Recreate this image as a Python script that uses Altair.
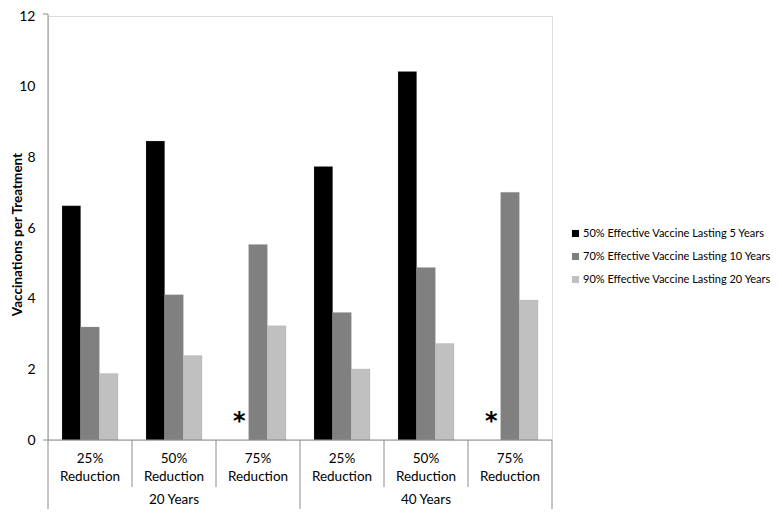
import altair as alt
import pandas as pd

periods = ["20 Years", "20 Years", "20 Years", "40 Years", "40 Years", "40 Years"]
reductions = ["25% Reduction", "50% Reduction", "75% Reduction",
              "25% Reduction", "50% Reduction", "75% Reduction"]
series = ["50% Effective Vaccine Lasting 5 Years",
          "70% Effective Vaccine Lasting 10 Years",
          "90% Effective Vaccine Lasting 20 Years"]
vals_5yr = [6.63, 8.46, None, 7.74, 10.43, None]
vals_10yr = [3.20, 4.11, 5.53, 3.61, 4.88, 7.01]
vals_20yr = [1.88, 2.39, 3.23, 2.01, 2.73, 3.96]
colors = ["#000000", "#808080", "#c0c0c0"]

FONT = "Lato"
W, H = 504, 424
AXIS_GRAY = "#8c8c8c"

keys = [f"{p} | {r}" for p, r in zip(periods, reductions)]

rows = []
for s, vals in zip(series, [vals_5yr, vals_10yr, vals_20yr]):
    for k, p, r, v in zip(keys, periods, reductions, vals):
        rows.append({"group": k, "period": p, "reduction": r, "series": s, "value": v})
df = pd.DataFrame(rows)
bars_df = df.dropna(subset=["value"])
missing_df = df[df["value"].isna()].assign(value=0, mark="*")

xscale = alt.Scale(domain=keys, paddingInner=0, paddingOuter=0)
xoff_scale = alt.Scale(domain=series, paddingInner=0, paddingOuter=0.75)

bars = alt.Chart(bars_df).mark_bar(stroke="#a0a0a0", strokeWidth=0.4, strokeOpacity=0.6).encode(
    x=alt.X("group:N", scale=xscale, axis=None, sort=keys),
    xOffset=alt.XOffset("series:N", scale=xoff_scale, sort=series),
    y=alt.Y("value:Q", scale=alt.Scale(domain=[0, 12], nice=False),
            axis=alt.Axis(values=[0, 2, 4, 6, 8, 10, 12], domain=False, ticks=False,
                          grid=False, labelFontSize=14, labelColor="#000000",
                          labelPadding=13, labelFont=FONT,
                          title="Vaccinations per Treatment", titleFontSize=13.5,
                          titleFontWeight="bold", titleFont=FONT, titleColor="#000000",
                          titleX=-31, titleY=H / 2 + 6, titleAngle=-90,
                          titleBaseline="middle", titleAlign="center")),
    color=alt.Color("series:N", scale=alt.Scale(domain=series, range=colors),
                    legend=alt.Legend(title=None, orient="none", legendX=522, legendY=212,
                                      symbolType="square", symbolSize=50,
                                      symbolStrokeWidth=0, labelFontSize=11,
                                      labelFont=FONT, labelColor="#000000", labelLimit=0,
                                      rowPadding=11, labelOffset=2, padding=0)),
)

stars = alt.Chart(missing_df).mark_text(fontSize=24, fontWeight="bold", font="DejaVu Sans",
                                        baseline="middle", dy=-18, color="#000000").encode(
    x=alt.X("group:N", scale=xscale, axis=None, sort=keys),
    xOffset=alt.XOffset("series:N", scale=xoff_scale, sort=series),
    y=alt.Y("value:Q"),
    text="mark:N",
)

grp_df = pd.DataFrame({"group": keys, "period": periods, "reduction": reductions})

baseline = alt.Chart(grp_df.head(1)).mark_rule(color=AXIS_GRAY, strokeWidth=1).encode(
    x=alt.value(-5), x2=alt.value(W), y=alt.value(H))
yline = alt.Chart(grp_df.head(1)).mark_rule(color=AXIS_GRAY, strokeWidth=1).encode(
    x=alt.value(0), y=alt.value(-2), y2=alt.value(H + 80))
ytick = alt.Chart(grp_df.head(1)).mark_rule(color=AXIS_GRAY, strokeWidth=1).encode(
    x=alt.value(-5), x2=alt.value(0), y=alt.value(-2))

inner_df = grp_df[grp_df["reduction"] != "25% Reduction"]
inner_sep = alt.Chart(inner_df).mark_rule(color=AXIS_GRAY, strokeWidth=1).encode(
    x=alt.X("group:N", scale=xscale, axis=None, sort=keys, bandPosition=0),
    y=alt.value(H), y2=alt.value(H + 47))
outer_df = grp_df[(grp_df["reduction"] == "25% Reduction") & (grp_df["period"] != "20 Years")]
outer_sep = alt.Chart(outer_df).mark_rule(color=AXIS_GRAY, strokeWidth=1).encode(
    x=alt.X("group:N", scale=xscale, axis=None, sort=keys, bandPosition=0),
    y=alt.value(H), y2=alt.value(H + 80))
end_df = grp_df.tail(1)
end_sep = alt.Chart(end_df).mark_rule(color=AXIS_GRAY, strokeWidth=1).encode(
    x=alt.X("group:N", scale=xscale, axis=None, sort=keys, bandPosition=1),
    y=alt.value(H), y2=alt.value(H + 80))

labels = alt.Chart(grp_df).mark_text(fontSize=13.5, font=FONT, baseline="top", lineBreak=" ",
                                     lineHeight=18, color="#000000").encode(
    x=alt.X("group:N", scale=xscale, axis=None, sort=keys),
    y=alt.value(H + 12),
    text="reduction:N",
)

mid_df = grp_df[grp_df["reduction"] == "50% Reduction"]
period_labels = alt.Chart(mid_df).mark_text(fontSize=13.5, font=FONT, baseline="middle",
                                            color="#000000").encode(
    x=alt.X("group:N", scale=xscale, axis=None, sort=keys),
    y=alt.value(H + 60),
    text="period:N",
)

chart = alt.layer(bars, stars, baseline, yline, ytick, inner_sep, outer_sep, end_sep,
                  labels, period_labels).properties(
    width=W, height=H,
    autosize=alt.AutoSizeParams(type="none"),
    padding={"left": 40, "top": 8, "right": 222, "bottom": 69},
).configure_view(stroke=None).configure(font=FONT)

chart.save("out.html", embed_options={"renderer": "svg", "actions": False})
